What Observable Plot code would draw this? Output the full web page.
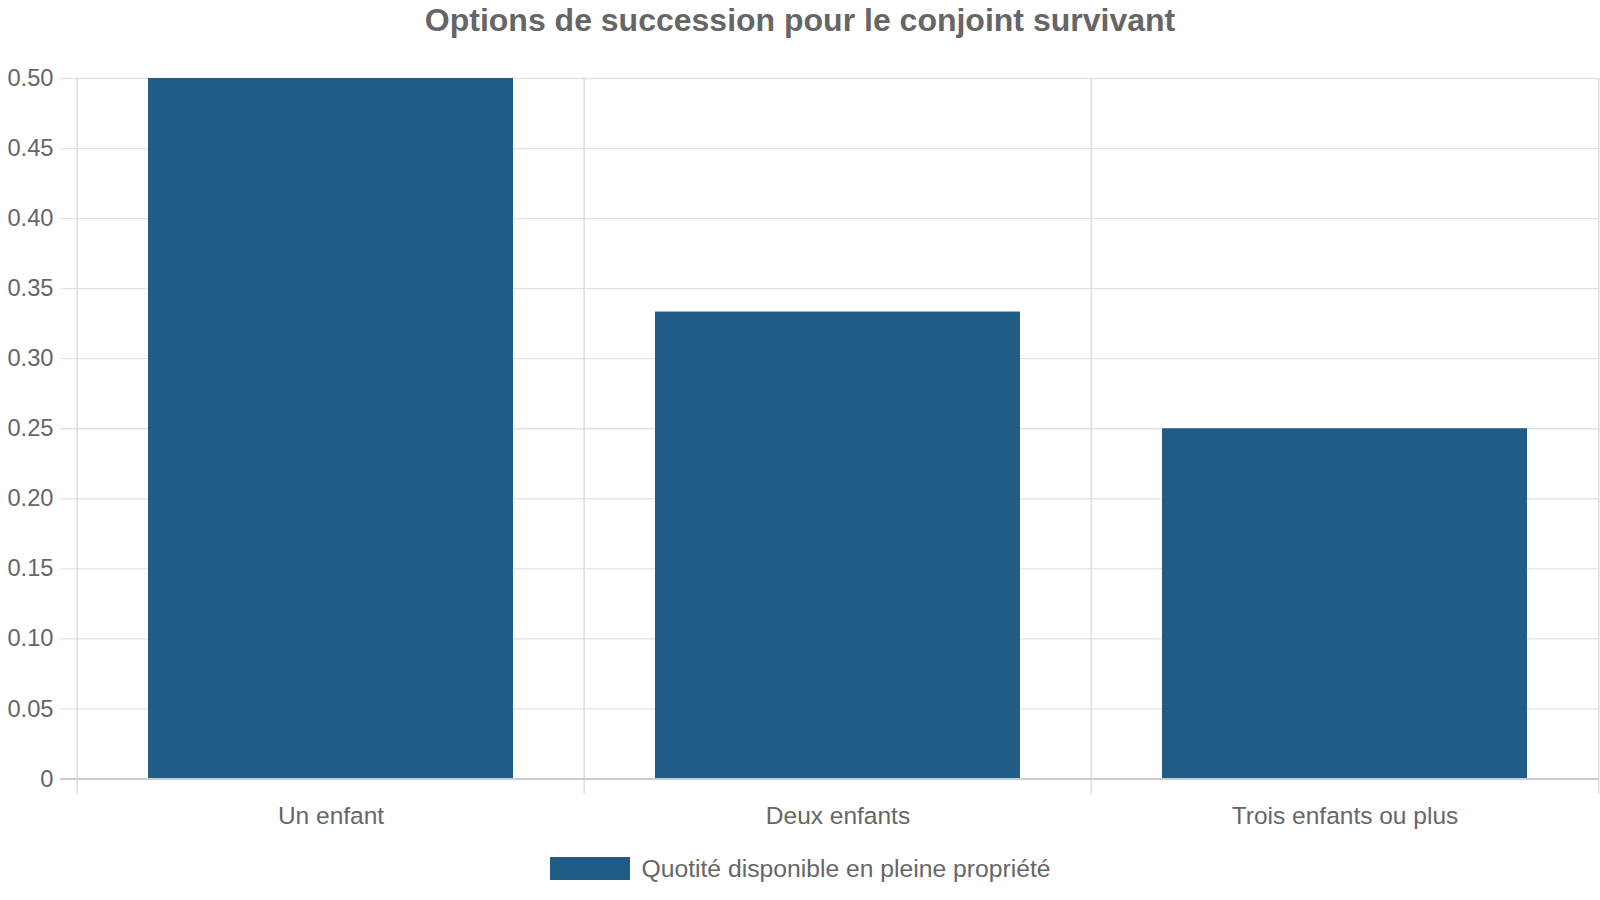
<!DOCTYPE html>
<html>
<head>
<meta charset="utf-8">
<script src="https://cdn.jsdelivr.net/npm/d3@7"></script>
<script src="https://cdn.jsdelivr.net/npm/@observablehq/plot@0.6"></script>
<style>
  html, body { margin: 0; padding: 0; background: #fff; width: 1600px; height: 900px; overflow: hidden; }
  body { font-family: "Liberation Sans", Arial, sans-serif; color: #666; position: relative; }
  #title { position: absolute; left: 0; top: 2px; width: 1600px; text-align: center; font-weight: bold; font-size: 32px; line-height: 36px; color: #666; }
  #chart { position: absolute; left: 0; top: 0; }
  #legend { position: absolute; left: 0; top: 857px; width: 1600px; display: flex; justify-content: center; align-items: center; gap: 12px; }
  #legend .sw { width: 80px; height: 23px; background: #205c86; }
  #legend .lb { font-size: 24.7px; line-height: 23px; color: #666; }
</style>
</head>
<body>
<div id="chart"></div>
<div id="title">Options de succession pour le conjoint survivant</div>
<div id="legend"><div class="sw"></div><div class="lb">Quotité disponible en pleine propriété</div></div>
<script>
const categories = ["Un enfant", "Deux enfants", "Trois enfants ou plus"];
const values = [0.5, 0.3333, 0.25];
const seriesName = "Quotité disponible en pleine propriété";
const yTicks = [0, 0.05, 0.10, 0.15, 0.20, 0.25, 0.30, 0.35, 0.40, 0.45, 0.50];

const data = categories.map((c, i) => ({category: c, value: values[i], series: seriesName}));

const W = 1600, H = 840, mL = 76, mR = 1, mT = 78, mB = 61.5;
const step = (W - mL - mR) / categories.length;
const barColor = "#205c86";

const chart = Plot.plot({
  width: W,
  height: H,
  marginLeft: mL,
  marginRight: mR,
  marginTop: mT,
  marginBottom: mB,
  style: { fontFamily: "Liberation Sans, Arial, sans-serif", color: "#666", background: "#fff", overflow: "visible" },
  x: { type: "band", domain: categories, paddingInner: 0.28, paddingOuter: 0.14, label: null },
  y: { domain: [0, 0.5], label: null },
  marks: [
    Plot.ruleY(yTicks.filter(d => d > 0), { y: d => d, stroke: "#e2e2e2", strokeWidth: 1.3, insetLeft: -16 }),
    Plot.ruleX(categories, { x: d => d, dx: -step / 2, stroke: "#d9d9d9", strokeWidth: 1.3, insetBottom: -15 }),
    Plot.ruleX([categories[categories.length - 1]], { x: d => d, dx: step / 2, stroke: "#d9d9d9", strokeWidth: 1.3, insetBottom: -15 }),
    Plot.barY(data, { x: "category", y: "value", fill: barColor }),
    Plot.ruleY([0], { stroke: "#cccccc", strokeWidth: 2, insetLeft: -16 }),
    Plot.axisY({ ticks: yTicks, tickSize: 0, tickPadding: 23, fontSize: 23.7, fill: "#666",
      tickFormat: d => d === 0 ? "0" : d.toFixed(2) }),
    Plot.axisX({ tickSize: 0, tickPadding: 28, fontSize: 24.5, fill: "#666" })
  ]
});
document.getElementById("chart").appendChild(chart);
</script>
</body>
</html>
